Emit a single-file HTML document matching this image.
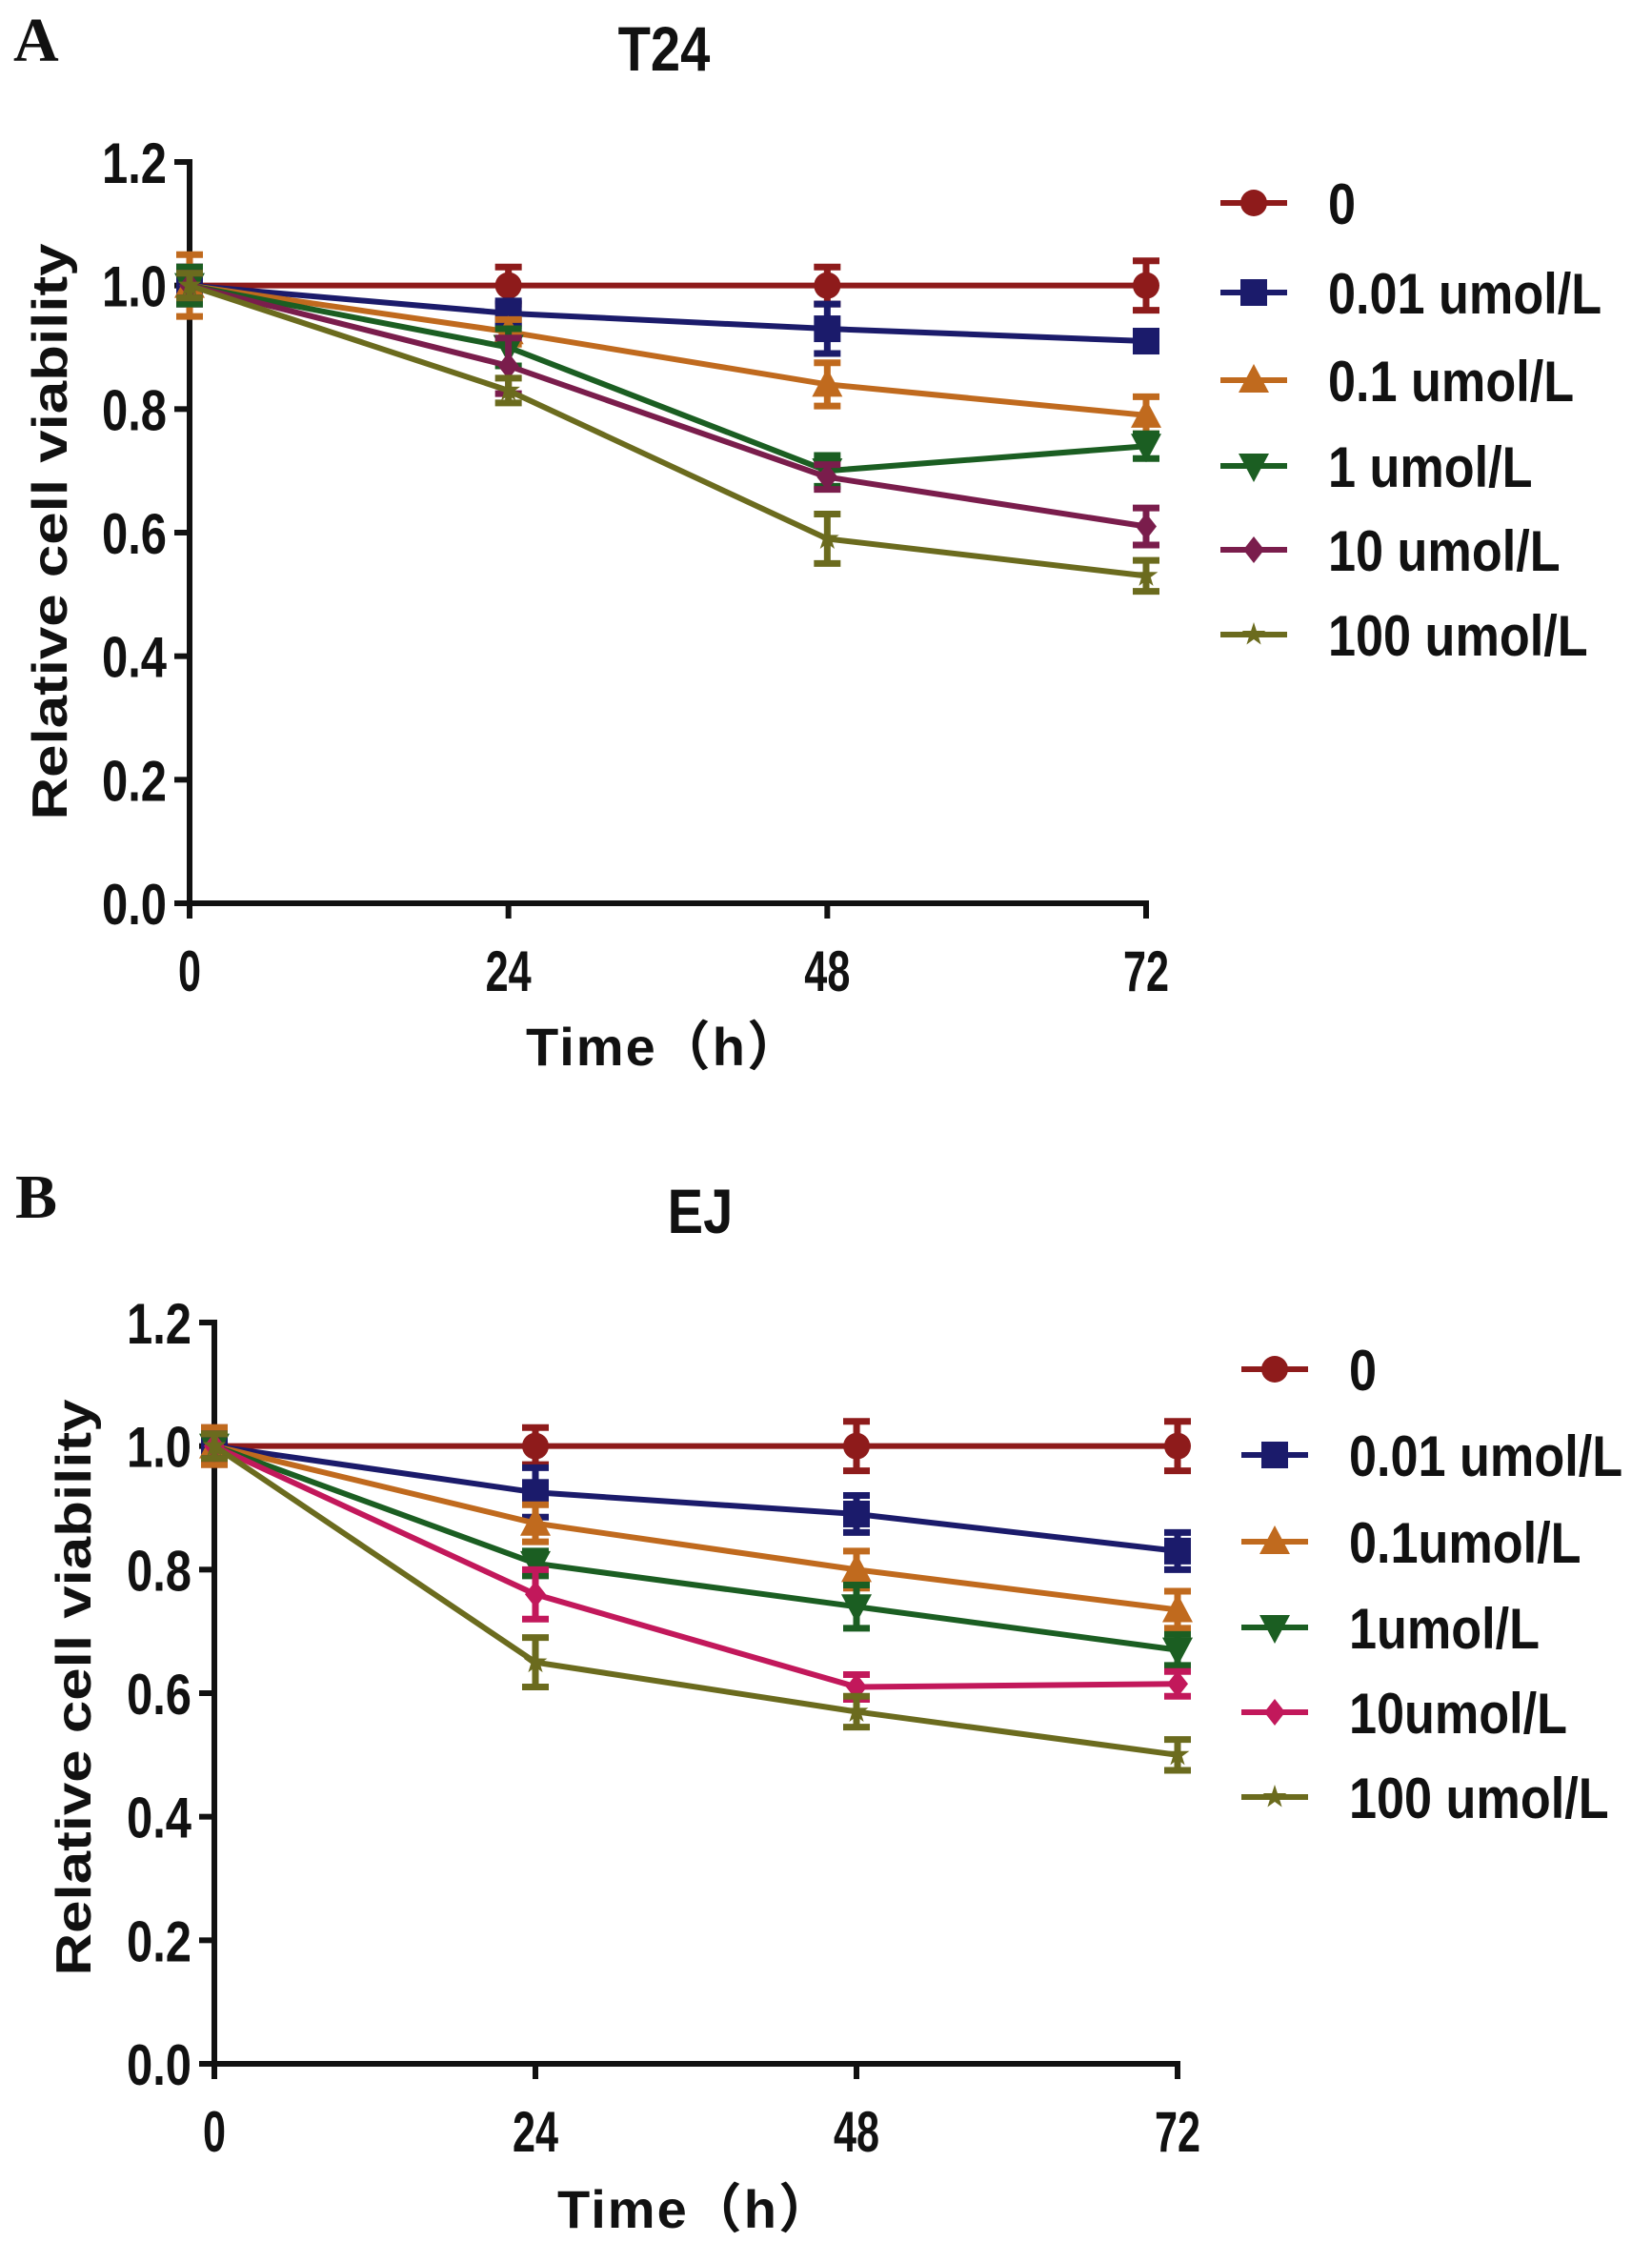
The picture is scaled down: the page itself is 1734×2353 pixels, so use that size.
<!DOCTYPE html>
<html><head><meta charset="utf-8"><style>
html,body{margin:0;padding:0;background:#fff}
svg{display:block}
text{font-family:"Liberation Sans",sans-serif;font-weight:bold;fill:#111}
</style></head><body>
<svg id="fig" width="1734" height="2353" viewBox="0 0 1734 2353" xmlns="http://www.w3.org/2000/svg"></svg>
<script>
const timePoints=[0,24,48,72];
const yTicks=[0,0.2,0.4,0.6,0.8,1.0,1.2];
const yTickLabels=["0.0","0.2","0.4","0.6","0.8","1.0","1.2"];
const seriesKeys=["c0","c001","c01","c1","c10","c100"];
const seriesMarkers=["circle","square","triangle","tridown","diamond","star"];
const labelsA=["0","0.01 umol/L","0.1 umol/L","1 umol/L","10 umol/L","100 umol/L"];
const labelsB=["0","0.01 umol/L","0.1umol/L","1umol/L","10umol/L","100 umol/L"];
const colorsA=["#8e1b1b","#1b1b6b","#c06a1e","#1b5e22","#7a1d4c","#6b6b1e"];
const colorsB=["#8e1b1b","#1b1b6b","#c06a1e","#1b5e22","#c2185b","#6b6b1e"];
const t24_c0=[1,1,1,1];        const t24_c0_err=[0.03,0.03,0.03,0.04];
const t24_c001=[1,0.955,0.93,0.91]; const t24_c001_err=[0.03,0.02,0.04,0.015];
const t24_c01=[1,0.925,0.84,0.79];  const t24_c01_err=[0.05,0.02,0.035,0.03];
const t24_c1=[1,0.9,0.70,0.74];     const t24_c1_err=[0.03,0.03,0.025,0.02];
const t24_c10=[1,0.87,0.69,0.61];   const t24_c10_err=[0.02,0.045,0.02,0.03];
const t24_c100=[1,0.83,0.59,0.53];  const t24_c100_err=[0.02,0.02,0.04,0.025];
const ej_c0=[1,1,1,1];          const ej_c0_err=[0.03,0.03,0.04,0.04];
const ej_c001=[1,0.925,0.89,0.83];  const ej_c001_err=[0.02,0.04,0.03,0.03];
const ej_c01=[1,0.875,0.80,0.735];  const ej_c01_err=[0.03,0.03,0.03,0.03];
const ej_c1=[1,0.81,0.74,0.67];     const ej_c1_err=[0.02,0.02,0.035,0.025];
const ej_c10=[1,0.76,0.61,0.615];   const ej_c10_err=[0.02,0.04,0.02,0.02];
const ej_c100=[1,0.65,0.57,0.50];   const ej_c100_err=[0.02,0.04,0.025,0.025];

const NS="http://www.w3.org/2000/svg";
const svg=document.getElementById('fig');
function mk(tag,attrs,parent){const e=document.createElementNS(NS,tag);for(const k in attrs)e.setAttribute(k,attrs[k]);(parent||svg).appendChild(e);return e;}
function markerShape(type,cx,cy,col,g){
  const s=14;let e;
  if(type==="circle")e=mk('circle',{cx,cy,r:s},g);
  else if(type==="square")e=mk('rect',{x:cx-s,y:cy-s,width:2*s,height:2*s},g);
  else if(type==="triangle")e=mk('polygon',{points:`${cx},${cy-s-3} ${cx-s-2},${cy+s-1} ${cx+s+2},${cy+s-1}`},g);
  else if(type==="tridown")e=mk('polygon',{points:`${cx},${cy+s+3} ${cx-s-2},${cy-s+1} ${cx+s+2},${cy-s+1}`},g);
  else if(type==="diamond")e=mk('polygon',{points:`${cx},${cy-s} ${cx+s-3},${cy} ${cx},${cy+s} ${cx-s+3},${cy}`},g);
  else{let p=[];for(let i=0;i<10;i++){const r=i%2?5:13;const a=-Math.PI/2+i*Math.PI/5;p.push((cx+r*Math.cos(a)).toFixed(1)+','+(cy+r*Math.sin(a)).toFixed(1));}e=mk('polygon',{points:p.join(' ')},g);}
  e.setAttribute('fill',col);
  return e;
}
function sx(el,x,k){el.setAttribute('transform',`translate(${x},0) scale(${k},1) translate(${-x},0)`);}
function panel(cfg){
  const {x0,x1,y0,y1,data,errs,labels,colors,title,letter,letterPos,titlePos,legX,legRows,yTitle,xTitle,id}=cfg;
  const X=t=>x0+(t/72)*(x1-x0);
  const Y=v=>y0-(v/1.2)*(y0-y1);
  const g=mk('g',{});
  
  
  let t=mk('text',{x:letterPos[0],y:letterPos[1],'font-size':66,style:'font-family:"Liberation Serif",serif'},g);t.textContent=letter;
  
  t=mk('text',{x:titlePos[0],y:titlePos[1],'font-size':66,'text-anchor':'middle'},g);t.textContent=title;sx(t,titlePos[0],0.85);
  
  let a=mk('line',{x1:x0,y1:y0+3,x2:x0,y2:y1-3,stroke:'#111','stroke-width':6},g);
  
  a=mk('line',{x1:x0-3,y1:y0,x2:x1+3,y2:y0,stroke:'#111','stroke-width':6},g);
  
  yTicks.forEach((v,i)=>{
    mk('line',{x1:x0-16,y1:Y(v),x2:x0,y2:Y(v),stroke:'#111','stroke-width':6},g);
    const tl=mk('text',{x:x0-24,y:Y(v)+22,'font-size':60,'text-anchor':'end',textLength:68,lengthAdjust:'spacingAndGlyphs'},g);
    tl.textContent=yTickLabels[i];
    
  });
  timePoints.forEach(tp=>{
    mk('line',{x1:X(tp),y1:y0,x2:X(tp),y2:y0+16,stroke:'#111','stroke-width':6},g);
    const tl=mk('text',{x:X(tp),y:y0+92,'font-size':60,'text-anchor':'middle'},g);
    sx(tl,X(tp),0.72);
    tl.textContent=String(tp);
    
  });
  t=mk('text',{x:0,y:0,'font-size':52,'text-anchor':'middle',transform:`translate(${yTitle[0]},${yTitle[1]}) rotate(-90)`,textLength:605,lengthAdjust:'spacingAndGlyphs'},g);
  t.textContent='Relative cell viability';
  t=mk('text',{x:xTitle[0],y:xTitle[1],'font-size':56,'text-anchor':'middle','letter-spacing':2,style:'font-family:"Liberation Sans","Noto Sans CJK SC",sans-serif'},g);
  t.textContent='Time（h）';
  data.forEach((vals,si)=>{
    const col=colors[si];
    const sg=mk('g',{},g);
    
    
    mk('polyline',{points:vals.map((v,i)=>X(timePoints[i])+','+Y(v)).join(' '),fill:'none',stroke:col,'stroke-width':6},sg);
    vals.forEach((v,i)=>{
      const cx=X(timePoints[i]),e=errs[si][i];
      const eb=mk('path',{d:`M${cx},${Y(v+e)}V${Y(v-e)}M${cx-14},${Y(v+e)}H${cx+14}M${cx-14},${Y(v-e)}H${cx+14}`,stroke:col,'stroke-width':7,fill:'none'},sg);
      
      const m=markerShape(seriesMarkers[si],cx,Y(v),col,sg);
      
    });
    const ly=legRows[si];
    const lg=mk('g',{},g);
    
    
    mk('line',{x1:legX-35,y1:ly,x2:legX+35,y2:ly,stroke:col,'stroke-width':6},lg);
    markerShape(seriesMarkers[si],legX,ly,col,lg);
    const lt=mk('text',{x:legX+78,y:ly+22,'font-size':60},lg);
    lt.textContent=labels[si];
    sx(lt,legX+78,0.87);
  });
}
panel({id:'t24',x0:199,x1:1203,y0:948,y1:170,
  data:[t24_c0,t24_c001,t24_c01,t24_c1,t24_c10,t24_c100],
  errs:[t24_c0_err,t24_c001_err,t24_c01_err,t24_c1_err,t24_c10_err,t24_c100_err],
  labels:labelsA,colors:colorsA,title:'T24',letter:'A',letterPos:[14,64],titlePos:[697,74],
  legX:1316,legRows:[213,307,399,489,577,666],yTitle:[70,558],xTitle:[697,1118]});
panel({id:'ej',x0:225,x1:1236,y0:2166,y1:1388,
  data:[ej_c0,ej_c001,ej_c01,ej_c1,ej_c10,ej_c100],
  errs:[ej_c0_err,ej_c001_err,ej_c01_err,ej_c1_err,ej_c10_err,ej_c100_err],
  labels:labelsB,colors:colorsB,title:'EJ',letter:'B',letterPos:[16,1278],titlePos:[735,1294],
  legX:1338,legRows:[1437,1527,1618,1708,1797,1886],yTitle:[95,1771],xTitle:[730,2338]});
</script>
</body></html>
